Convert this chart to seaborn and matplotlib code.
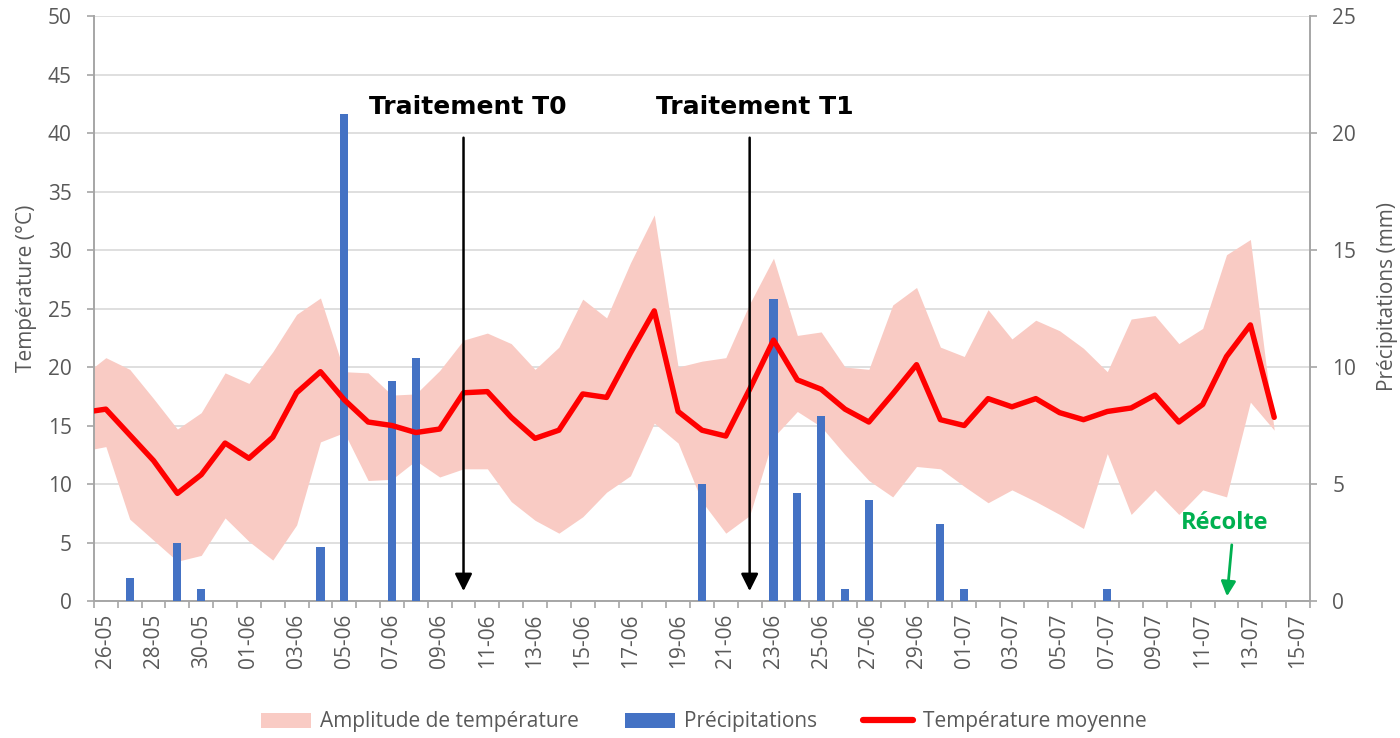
import numpy as np
import pandas as pd
import matplotlib
matplotlib.use("Agg")
import matplotlib.pyplot as plt
import seaborn as sns
from matplotlib.patches import Patch
from matplotlib.lines import Line2D

# ---------------- data ----------------
start_date = "2021-05-25"
end_date = "2021-07-14"
first_axis_day = "2021-05-26"

t_mean = [16.1, 16.4, 14.2, 12.0, 9.2, 10.8, 13.5, 12.2, 14.0, 17.8,
          19.6, 17.2, 15.3, 15.0, 14.4, 14.7, 17.8, 17.9, 15.7, 13.9,
          14.6, 17.7, 17.4, 21.2, 24.8, 16.2, 14.6, 14.1, 18.1, 22.3,
          18.9, 18.1, 16.4, 15.3, 17.7, 20.2, 15.5, 15.0, 17.3, 16.6,
          17.3, 16.1, 15.5, 16.2, 16.5, 17.6, 15.3, 16.8, 20.9, 23.6,
          15.7]
t_max = [19.2, 20.8, 19.8, 17.3, 14.7, 16.1, 19.5, 18.6, 21.3, 24.5,
         25.9, 19.6, 19.5, 17.6, 17.7, 19.7, 22.3, 22.9, 22.0, 19.8,
         21.7, 25.8, 24.2, 28.9, 33.0, 20.0, 20.5, 20.8, 25.4, 29.3,
         22.7, 23.0, 20.0, 19.8, 25.3, 26.8, 21.7, 20.9, 24.9, 22.4,
         24.0, 23.1, 21.6, 19.6, 24.1, 24.4, 22.0, 23.3, 29.6, 30.9,
         14.6]
t_min = [12.8, 13.2, 7.0, 5.2, 3.4, 3.9, 7.1, 5.1, 3.5, 6.5,
         13.6, 14.4, 10.3, 10.4, 12.0, 10.6, 11.3, 11.3, 8.5, 6.9,
         5.8, 7.2, 9.3, 10.7, 15.2, 13.5, 8.5, 5.8, 7.3, 14.0,
         16.2, 14.9, 12.5, 10.3, 8.9, 11.5, 11.3, 9.8, 8.4, 9.5,
         8.5, 7.4, 6.2, 12.6, 7.4, 9.5, 7.4, 9.5, 8.9, 17.0,
         14.6]
precip = [0, 0, 1.0, 0, 2.5, 0.5, 0, 0, 0, 0,
          2.3, 20.8, 0, 9.4, 10.4, 0, 0, 0, 0, 0,
          0, 0, 0, 0, 0, 0, 5.0, 0, 0, 12.9,
          4.6, 7.9, 0.5, 4.3, 0, 0, 3.3, 0.5, 0, 0,
          0, 0, 0, 0.5, 0, 0, 0, 0, 0, 0,
          0]

tick_labels = ["26-05", "28-05", "30-05", "01-06", "03-06", "05-06", "07-06",
               "09-06", "11-06", "13-06", "15-06", "17-06", "19-06", "21-06",
               "23-06", "25-06", "27-06", "29-06", "01-07", "03-07", "05-07",
               "07-07", "09-07", "11-07", "13-07", "15-07"]

treatments = ["Traitement T0", "Traitement T1"]
treatment_dates = ["2021-06-10", "2021-06-22"]
harvest_label = "Récolte"
harvest_date = "2021-07-12"

# ---------------- styling ----------------
PINK = "#F9CBC4"
BLUE = "#4472C4"
RED = "#FF0000"
GREY_TXT = "#595959"
GREY_AX = "#A6A6A6"
GRID = "#D9D9D9"
GREEN = "#00B050"
FS = 15

sns.set_theme(style="white")
plt.rcParams["font.family"] = ["Open Sans", "DejaVu Sans"]

origin = pd.Timestamp(first_axis_day)
dates = pd.date_range(start_date, end_date, freq="D")
x = np.asarray((dates - origin).days, dtype=float)
df = pd.DataFrame({"x": x, "t_mean": t_mean, "t_max": t_max,
                   "t_min": t_min, "precip": precip})

tick_pos = [(pd.to_datetime(l + "-2021", format="%d-%m-%Y") - origin).days
            for l in tick_labels]
n_days = tick_pos[-1] + 1

fig = plt.figure(figsize=(14, 7.38), dpi=100)
ax = fig.add_axes([0.0671, 0.1856, 0.8686, 0.7927])

# amplitude area
ax.fill_between(df["x"], df["t_min"], df["t_max"], color=PINK, lw=0, zorder=2)
ax.set_ylim(0, 50)
ax.set_yticks(range(0, 51, 5))
ax.grid(axis="y", color=GRID, lw=1.2)
ax.grid(axis="x", visible=False)
ax.set_axisbelow(True)

# precipitation bars on secondary axis
ax2 = ax.twinx()
sns.barplot(data=df, x="x", y="precip", native_scale=True, width=0.34,
            color=BLUE, saturation=1, errorbar=None, linewidth=0, ax=ax2)
ax2.set_ylim(0, 25)
ax2.set_yticks(range(0, 26, 5))
ax2.set_ylabel("")
ax2.set_xlabel("")

# mean temperature line on top
ax3 = ax.twinx()
sns.lineplot(data=df, x="x", y="t_mean", color=RED, lw=3.9, ax=ax3,
             solid_capstyle="round", solid_joinstyle="round")
ax3.set_ylim(0, 50)
ax3.axis("off")

for a in (ax, ax2, ax3):
    a.set_xlim(-0.5, n_days - 0.5)

# x axis ticks
ax.set_xticks(tick_pos)
ax.set_xticklabels(tick_labels, rotation=90)
ax.set_xticks(np.arange(-0.5, n_days, 1.0), minor=True)
ax.tick_params(axis="x", which="major", length=0, pad=9, labelsize=FS,
               labelcolor=GREY_TXT)
ax.tick_params(axis="x", which="minor", length=5, width=1.2, color=GREY_AX,
               direction="out", bottom=True)
ax.tick_params(axis="y", which="major", length=5, width=1.2, color=GREY_AX,
               direction="out", left=True, labelsize=FS, labelcolor=GREY_TXT,
               pad=11)
ax2.tick_params(axis="y", which="major", length=5, width=1.2, color=GREY_AX,
                direction="out", right=True, labelsize=FS,
                labelcolor=GREY_TXT, pad=11)
ax.set_xlabel("")

for s in ("top", "right"):
    ax.spines[s].set_visible(False)
for s in ("left", "bottom"):
    ax.spines[s].set_color(GREY_AX)
    ax.spines[s].set_linewidth(1.4)
for s in ("top", "left", "bottom"):
    ax2.spines[s].set_visible(False)
ax2.spines["right"].set_color(GREY_AX)
ax2.spines["right"].set_linewidth(1.4)

ax.set_ylabel("Température (°C)", fontsize=FS, color=GREY_TXT)
ax.yaxis.set_label_coords(-0.047, 0.535)
ax2.set_ylabel("Précipitations (mm)", fontsize=FS, color=GREY_TXT)
ax2.yaxis.set_label_coords(1.055, 0.52)

# treatment annotations
for lab, d in zip(treatments, treatment_dates):
    xd = (pd.Timestamp(d) - origin).days
    ax3.annotate("", xy=(xd, 0.85), xytext=(xd, 39.6),
                 arrowprops=dict(arrowstyle="-|>", color="black", lw=1.8,
                                 mutation_scale=26, shrinkA=0, shrinkB=0),
                 zorder=10)
    ax3.text(xd + 0.2, 42.2, lab, ha="center", va="center", fontsize=18,
             fontweight="bold", family=["DejaVu Sans"], color="black",
             zorder=10)

# harvest annotation
xh = (pd.Timestamp(harvest_date) - origin).days
ax3.annotate("", xy=(xh + 0.02, 0.4), xytext=(xh + 0.22, 4.8),
             arrowprops=dict(arrowstyle="-|>", color=GREEN, lw=2.0,
                             mutation_scale=22, shrinkA=0, shrinkB=0),
             zorder=10)
ax3.text(xh - 0.1, 6.7, harvest_label, ha="center", va="center", fontsize=17,
         fontweight="bold", color=GREEN, zorder=10)

# legend
handles = [Patch(facecolor=PINK, edgecolor="none"),
           Patch(facecolor=BLUE, edgecolor="none"),
           Line2D([0], [0], color=RED, lw=4.5, solid_capstyle="round")]
labels = ["Amplitude de température", "Précipitations", "Température moyenne"]
fig.legend(handles, labels, loc="center", bbox_to_anchor=(0.5025, 16 / 738),
           ncol=3, frameon=False, fontsize=FS, labelcolor=GREY_TXT,
           handlelength=2.4, handleheight=0.7, handletextpad=0.45,
           columnspacing=2.2)

fig.savefig("out.png", dpi=100)
